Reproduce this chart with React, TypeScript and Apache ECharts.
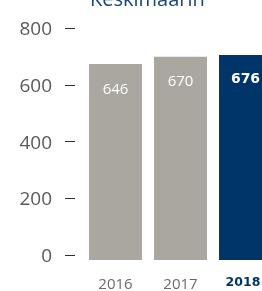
import React, { useEffect, useRef } from "react";
import * as echarts from "echarts";

const categories = ["2016", "2017", "2018"];
const values = [646, 670, 676];
const barColors = ["#a9a7a0", "#a9a7a0", "#00356a"];
const boldIndex = 2;
const tickValues = [0, 200, 400, 600, 800];
const title = "Keskimäärin";

export default function App() {
  const ref = useRef<HTMLDivElement>(null);
  useEffect(() => {
    const chart = echarts.init(ref.current!, undefined, { renderer: "svg" });
    chart.setOption({
      animation: false,
      graphic: [
        {
          type: "text",
          left: 90,
          top: -12,
          style: {
            text: title,
            fill: "#17467f",
            font: "normal 20px 'Open Sans'",
          },
        },
      ],
      grid: [
        { left: 75, top: 28, right: 20, height: 227 },
        { left: 83, top: 17.3, right: 2, height: 242.7 },
      ],
      xAxis: [
        { type: "value", gridIndex: 0, show: false },
        {
          type: "category",
          gridIndex: 1,
          data: categories,
          axisLine: { show: false },
          axisTick: { show: false },
          axisLabel: {
            interval: 0,
            margin: 15,
            fontFamily: "Open Sans",
            fontSize: 15,
            color: "#6b6b6b",
            formatter: (v: string) =>
              v === categories[boldIndex] ? "{b|" + v + "}" : v,
            rich: {
              b: {
                fontFamily: "DejaVu Sans",
                fontWeight: "bold",
                fontSize: 12.5,
                color: "#00356a",
                padding: [0, 5, 0, 0],
              },
            },
          },
        },
      ],
      yAxis: [
        {
          type: "value",
          gridIndex: 0,
          min: tickValues[0],
          max: tickValues[tickValues.length - 1],
          interval: 200,
          axisLine: { show: false },
          splitLine: { show: false },
          axisTick: { show: true, length: 10, lineStyle: { color: "#333", width: 1 } },
          axisLabel: {
            margin: 23,
            fontFamily: "Open Sans",
            fontSize: 19,
            color: "#5a5a5a",
          },
        },
        {
          type: "value",
          gridIndex: 1,
          min: 0,
          max: 800,
          show: false,
        },
      ],
      series: [
        {
          type: "bar",
          xAxisIndex: 1,
          yAxisIndex: 1,
          barCategoryGap: "18.5%",
          data: values.map((v, i) => ({
            value: v,
            itemStyle: { color: barColors[i] },
            label:
              i === boldIndex
                ? { fontWeight: "bold", fontFamily: "DejaVu Sans", fontSize: 14 }
                : {},
          })),
          label: {
            show: true,
            position: "insideTop",
            distance: 16,
            color: "#ffffff",
            fontFamily: "Open Sans",
            fontSize: 15,
          },
        },
      ],
    });
    return () => chart.dispose();
  }, []);
  return (
    <div
      ref={ref}
      style={{ position: "fixed", left: 0, top: 0, width: 280, height: 291 }}
    />
  );
}
